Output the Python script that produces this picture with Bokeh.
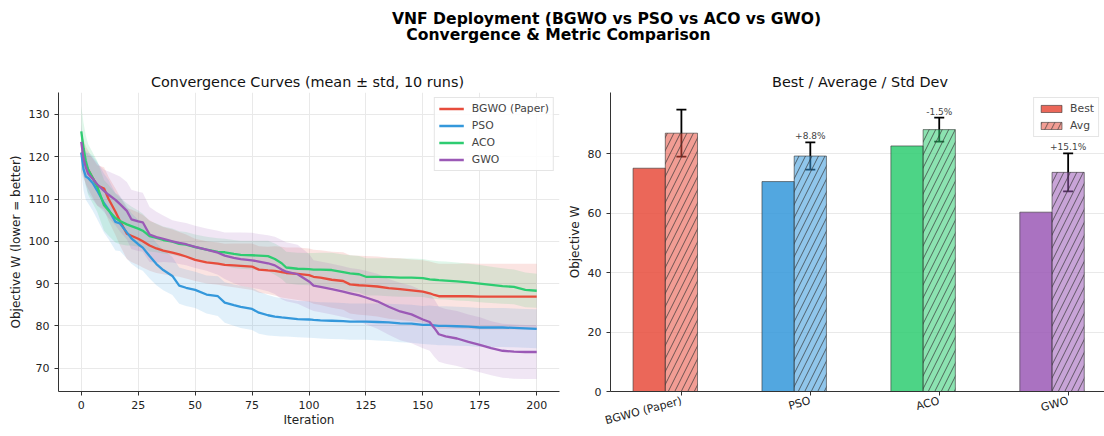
import numpy as np
from bokeh.plotting import figure
from bokeh.models import (ColumnDataSource, Range1d, FixedTicker, Whisker, TeeHead,
                          LabelSet, Legend, LegendItem)
from bokeh.layouts import column, row
from bokeh.embed import file_html
from bokeh.resources import INLINE
from bokeh.core.properties import value

# ---------------- data ----------------
iterations = [0, 1, 2, 3, 5, 7, 10, 12, 15, 17, 20, 22, 25, 27, 30, 33, 36, 40, 43, 46,
              50, 55, 60, 63, 67, 70, 75, 78, 82, 85, 88, 90, 95, 100, 102, 105, 110, 115,
              118, 122, 125, 130, 135, 140, 145, 150, 153, 155, 157, 160, 165, 170, 175,
              180, 185, 190, 195, 200]

bgwo_mean = [121.0, 119.5, 118.0, 117.0, 115.0, 113.2, 112.5, 110.0, 107.0, 104.8,
             101.8, 101.3, 100.6, 100.0, 99.0, 98.3, 97.8, 97.3, 96.9, 96.4,
             95.6, 95.0, 94.7, 94.4, 94.3, 94.2, 94.0, 93.3, 93.1, 93.0, 92.7,
             92.5, 92.3, 92.0, 91.6, 91.4, 90.9, 90.6, 89.8, 89.6, 89.5, 89.3, 88.9,
             88.7, 88.4, 88.1, 87.7, 87.3, 87.0, 87.0, 87.0, 87.0, 86.9, 86.9, 86.9,
             86.9, 86.9, 86.9]
bgwo_std = [4.5, 4.5, 4.5, 4.5, 4.6, 4.8, 5.0, 5.2, 5.5, 5.8, 6.0, 6.2, 6.2, 6.2,
            6.0, 5.8, 5.6, 5.5, 5.3, 5.2, 5.0, 5.0, 5.0, 5.0, 5.2, 5.3, 5.5, 5.5,
            5.6, 5.8, 6.0, 6.0, 6.2, 6.3, 6.4, 6.5, 6.6, 6.8, 6.9, 7.0, 7.0, 7.1, 7.2,
            7.3, 7.3, 7.4, 7.5, 7.6, 7.7, 7.7, 7.7, 7.8, 7.8, 7.8, 7.8, 7.8, 7.8, 7.8]

pso_mean = [121.0, 117.0, 115.3, 115.0, 113.8, 112.0, 109.0, 107.5, 104.6, 104.2,
            102.1, 100.7, 99.3, 98.5, 96.5, 94.6, 93.2, 91.8, 89.5, 89.0,
            88.5, 87.4, 87.0, 85.5, 84.9, 84.5, 84.0, 83.1, 82.5, 82.2, 82.0,
            81.9, 81.6, 81.5, 81.4, 81.3, 81.2, 81.1, 81.0, 81.0, 81.0, 80.9, 80.8,
            80.6, 80.5, 80.2, 80.2, 80.1, 80.0, 80.0, 79.9, 79.8, 79.6, 79.6, 79.6,
            79.5, 79.4, 79.3]
pso_std = [4.0, 5.0, 5.5, 6.0, 6.5, 6.8, 7.0, 7.0, 6.8, 6.5, 6.2, 6.0, 5.8, 5.5,
           5.3, 5.0, 4.8, 4.5, 4.3, 4.3, 4.3, 4.5, 4.7, 4.8, 4.9, 5.0, 5.0, 5.0,
           4.8, 4.6, 4.5, 4.4, 4.3, 4.3, 4.3, 4.3, 4.3, 4.3, 4.3, 4.3, 4.3, 4.4, 4.4,
           4.5, 4.5, 4.5, 4.6, 4.6, 4.6, 4.6, 4.6, 4.6, 4.6, 4.6, 4.6, 4.6, 4.6, 4.6]

aco_mean = [126.0, 122.0, 119.0, 117.0, 115.0, 113.0, 108.5, 107.3, 105.5, 104.8,
            104.0, 103.6, 103.0, 102.5, 101.2, 100.8, 100.3, 99.9, 99.4, 99.2,
            98.6, 98.0, 97.5, 97.4, 97.0, 96.8, 96.7, 96.6, 96.5, 95.8, 94.8,
            93.8, 93.5, 93.4, 93.3, 93.3, 93.2, 92.7, 92.4, 92.2, 91.6, 91.6, 91.5,
            91.4, 91.4, 91.3, 91.0, 90.9, 90.8, 90.7, 90.5, 90.3, 90.0, 89.7, 89.4,
            89.2, 88.5, 88.3]
aco_std = [6.0, 6.0, 6.0, 6.0, 6.0, 6.0, 6.0, 6.0, 5.8, 5.5, 5.0, 4.6, 4.3, 4.0,
           3.6, 3.4, 3.2, 3.1, 3.0, 3.0, 3.0, 3.1, 3.2, 3.2, 3.3, 3.3, 3.4, 3.5,
           3.6, 3.7, 3.7, 3.7, 3.8, 3.8, 3.9, 4.0, 4.1, 4.2, 4.3, 4.3, 4.4, 4.4, 4.5,
           4.5, 4.5, 4.5, 4.5, 4.5, 4.5, 4.5, 4.5, 4.4, 4.4, 4.3, 4.2, 4.1, 4.1, 4.0]

gwo_mean = [123.5, 119.5, 117.5, 116.0, 114.8, 113.5, 111.9, 111.0, 109.8, 108.8,
            107.2, 105.2, 104.7, 104.5, 101.6, 101.0, 100.6, 100.0, 99.6, 99.3,
            98.7, 98.0, 97.3, 96.6, 96.1, 95.8, 95.5, 95.2, 94.8, 94.3, 93.3,
            92.8, 92.2, 90.5, 89.5, 89.2, 88.7, 88.1, 87.7, 87.2, 86.7, 85.8, 84.5,
            83.4, 82.7, 81.5, 80.9, 79.5, 78.0, 77.5, 77.0, 76.2, 75.5, 74.7, 74.1,
            73.9, 73.8, 73.8]
gwo_std = [4.0, 4.0, 4.0, 4.5, 5.0, 5.0, 5.0, 5.5, 6.0, 6.5, 6.8, 7.0, 7.0, 7.0,
           6.5, 6.0, 5.5, 5.0, 5.0, 5.0, 5.0, 5.0, 5.2, 5.5, 6.0, 6.3, 6.5, 6.5,
           6.6, 6.8, 7.0, 7.0, 7.0, 6.5, 6.0, 6.0, 6.0, 6.0, 6.0, 6.2, 6.3, 6.5, 6.6,
           6.8, 6.8, 6.8, 6.8, 6.8, 6.5, 6.5, 6.5, 6.5, 6.5, 6.4, 6.4, 6.4, 6.4, 6.4]

methods = ["BGWO (Paper)", "PSO", "ACO", "GWO"]
best_vals = [75.2, 70.7, 82.7, 60.4]
avg_vals = [87.0, 79.3, 88.2, 73.8]
std_vals = [7.9, 4.6, 4.05, 6.4]
delta_labels = ["", "+8.8%", "-1.5%", "+15.1%"]

colors = ["#e74c3c", "#3498db", "#2ecc71", "#9b59b6"]

title_line1 = "VNF Deployment (BGWO vs PSO vs ACO vs GWO)"
title_line2 = "Convergence & Metric Comparison"
left_title = "Convergence Curves (mean \u00b1 std, 10 runs)"
right_title = "Best / Average / Std Dev"

FONT = "DejaVu Sans"
AX = "#333333"
GRID = "#e9e9e9"


def style_axes(p):
    for ax in (p.xaxis[0], p.yaxis[0]):
        ax.major_tick_out = 4
        ax.major_tick_in = 0
        ax.minor_tick_out = 0
        ax.minor_tick_in = 0
        ax.axis_line_color = AX
        ax.major_tick_line_color = AX
        ax.major_label_text_font = FONT
        ax.major_label_text_font_size = "11px"
        ax.major_label_text_color = "#222222"
        ax.axis_label_text_font = FONT
        ax.axis_label_text_font_size = "12px"
        ax.axis_label_text_font_style = "normal"
        ax.axis_label_text_color = "#222222"
    p.yaxis.major_label_standoff = 5
    p.yaxis.axis_label_standoff = 3
    p.outline_line_color = None


# ---------------- titles (suptitle + panel titles) ----------------
pt = figure(width=1104, height=92, x_range=Range1d(0, 1104), y_range=Range1d(92, 0),
            output_backend="svg", toolbar_location=None, min_border=0,
            x_axis_type=None, y_axis_type=None)
pt.grid.visible = False
pt.outline_line_color = None
pt.text(x=[606, 558], y=[18.2, 34.2], text=[title_line1, title_line2],
        text_font=value(FONT), text_font_style="bold", text_font_size="15.6px",
        text_align="center", text_baseline="alphabetic", text_color="black")
pt.text(x=[307, 859.5], y=[81.2, 81.2], text=[left_title, right_title],
        text_font=value(FONT), text_font_size="14.4px",
        text_align="center", text_baseline="alphabetic", text_color="#111111")

# ---------------- convergence ----------------
p1 = figure(width=560, height=344, x_range=Range1d(-10, 210), y_range=Range1d(64.46, 135.2),
            output_backend="svg", toolbar_location=None,
            min_border_left=58, min_border_right=1, min_border_top=0, min_border_bottom=42)
style_axes(p1)
p1.xaxis.ticker = FixedTicker(ticks=[0, 25, 50, 75, 100, 125, 150, 175, 200])
p1.yaxis.ticker = FixedTicker(ticks=[70, 80, 90, 100, 110, 120, 130])
p1.xaxis.axis_label = "Iteration"
p1.yaxis.axis_label = "Objective W (lower = better)"
p1.xaxis.major_label_standoff = 5
p1.xaxis.axis_label_standoff = 1
p1.xgrid.grid_line_color = GRID
p1.ygrid.grid_line_color = GRID

series = [("BGWO (Paper)", bgwo_mean, bgwo_std), ("PSO", pso_mean, pso_std),
          ("ACO", aco_mean, aco_std), ("GWO", gwo_mean, gwo_std)]
for (name, m, s), c in zip(series, colors):
    m = np.array(m)
    s = np.array(s)
    p1.varea(x=iterations, y1=m - s, y2=m + s, fill_color=c, fill_alpha=0.15)
items = []
for (name, m, s), c in zip(series, colors):
    r = p1.line(iterations, m, line_color=c, line_width=2.3, line_join="round")
    items.append(LegendItem(label=name, renderers=[r]))
leg1 = Legend(items=items, location="top_right", margin=5, padding=4, spacing=4,
              glyph_width=25, glyph_height=13, label_standoff=8,
              label_text_font=FONT, label_text_font_size="10.8px",
              border_line_color="#cccccc", background_fill_alpha=0.85)
p1.add_layout(leg1)

# ---------------- bars ----------------
w = 0.25
idx = np.arange(len(methods))
upper = [a + s for a, s in zip(avg_vals, std_vals)]
lower = [a - s for a, s in zip(avg_vals, std_vals)]
src = ColumnDataSource(dict(
    x_best=idx - w / 2, x_avg=idx + w / 2, best=best_vals, avg=avg_vals,
    upper=upper, lower=lower, color=colors, method=methods))

p2 = figure(width=544, height=344, x_range=Range1d(-0.425, 3.407), y_range=Range1d(0, 100.7),
            output_backend="svg", toolbar_location=None,
            min_border_left=50, min_border_right=0, min_border_top=0, min_border_bottom=42)
style_axes(p2)
p2.yaxis.axis_label = "Objective W"
p2.yaxis.ticker = FixedTicker(ticks=[0, 20, 40, 60, 80])
tick_x = [float(v) for v in idx + w / 2]
p2.xaxis.ticker = FixedTicker(ticks=tick_x)
p2.xaxis.major_label_overrides = {t: m for t, m in zip(tick_x, methods)}
p2.xaxis.major_label_orientation = np.pi / 12
p2.xaxis.major_label_standoff = 5
p2.xgrid.visible = False
p2.ygrid.grid_line_color = GRID

rb = p2.vbar(x="x_best", top="best", width=w, source=src, fill_color="color", fill_alpha=0.85,
             line_color="#333333", line_alpha=0.6, line_width=1)
ra = p2.vbar(x="x_avg", top="avg", width=w, source=src, fill_color="color", fill_alpha=0.55,
             line_color="#333333", line_alpha=0.6, line_width=1,
             hatch_pattern="/", hatch_color="#333333", hatch_alpha=0.7,
             hatch_scale=13, hatch_weight=1)
p2.add_layout(Whisker(source=src, base="x_avg", upper="upper", lower="lower",
                      line_color="black", line_width=1.8,
                      upper_head=TeeHead(size=10, line_color="black", line_width=1.8),
                      lower_head=TeeHead(size=10, line_color="black", line_width=1.8)))

ann_src = ColumnDataSource(dict(
    x=[x for x, t in zip(idx + w / 2, delta_labels) if t],
    y=[u for u, t in zip(upper, delta_labels) if t],
    t=[t for t in delta_labels if t]))
p2.add_layout(LabelSet(x="x", y="y", text="t", source=ann_src, text_align="center",
                       text_baseline="bottom", y_offset=1, text_font=value(FONT),
                       text_font_size="9px", text_color="#444444"))

leg2 = Legend(items=[LegendItem(label="Best", renderers=[rb], index=0),
                     LegendItem(label="Avg", renderers=[ra], index=0)],
              location="top_right", margin=5, padding=4, spacing=4,
              glyph_width=26, glyph_height=9, label_standoff=6,
              label_text_font=FONT, label_text_font_size="10.8px",
              border_line_color="#cccccc", background_fill_alpha=0.85)
p2.add_layout(leg2)

layout = column(pt, row(p1, p2))
open("out.html", "w").write(file_html(layout, INLINE))
